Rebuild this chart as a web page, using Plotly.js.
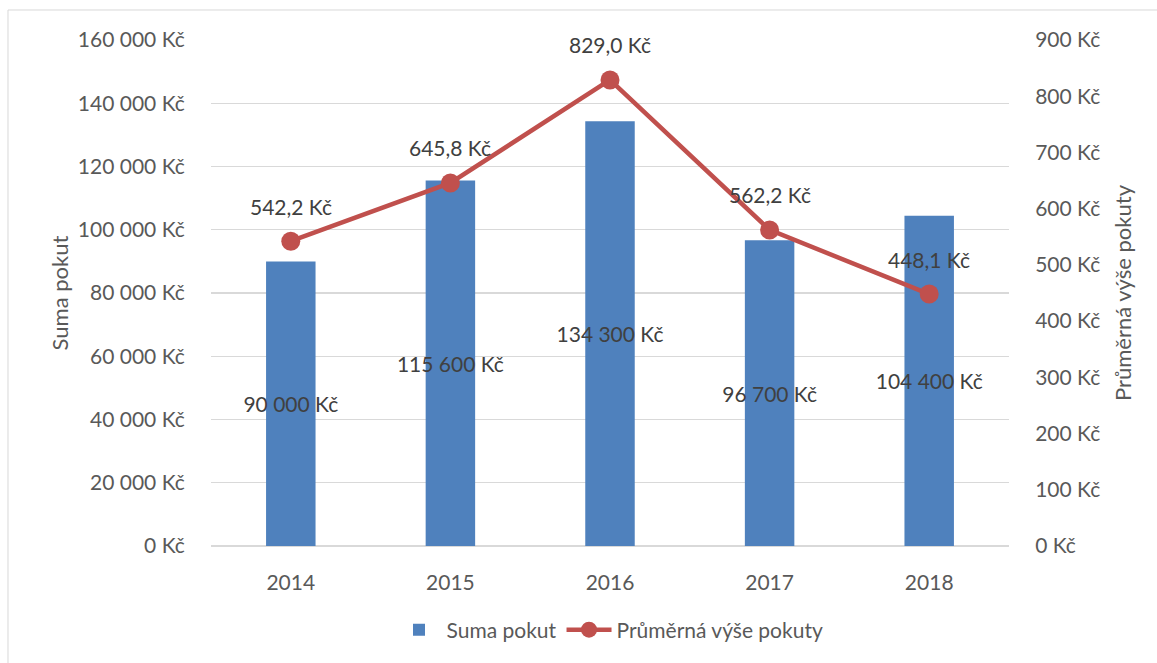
<!DOCTYPE html>
<html>
<head>
<meta charset="utf-8">
<script src="https://cdn.plot.ly/plotly-3.0.1.min.js"></script>
<style>html,body{margin:0;padding:0;background:#fff;}#chart{width:1157px;height:663px;}</style>
</head>
<body>
<div id="chart"></div>
<script>
var years = ['2014', '2015', '2016', '2017', '2018'];
var sumaPokut = [90000, 115600, 134300, 96700, 104400];
var prumernaVyse = [542.2, 645.8, 829.0, 562.2, 448.1];
var seriesNames = ['Suma pokut', 'Průměrná výše pokuty'];
var axisTitles = ['Suma pokut', 'Průměrná výše pokuty'];
var leftTicks = [0, 20000, 40000, 60000, 80000, 100000, 120000, 140000, 160000];
var rightTicks = [0, 100, 200, 300, 400, 500, 600, 700, 800, 900];

var FONT = 'Lato, "Open Sans", sans-serif';
var GRAY = '#595959';
var DARK = '#404040';
var FS = 21;

function fmtInt(n) {
  return String(Math.round(n)).replace(/\B(?=(\d{3})+(?!\d))/g, ' ') + ' Kč';
}
function fmtDec(n) {
  return n.toFixed(1).replace('.', ',') + ' Kč';
}

var bars = {
  type: 'bar',
  name: seriesNames[0],
  x: years,
  y: sumaPokut,
  marker: {color: '#4f81bd'},
  text: sumaPokut.map(fmtInt),
  textposition: 'inside',
  insidetextanchor: 'middle',
  constraintext: 'none',
  textangle: 0,
  insidetextfont: {family: FONT, size: FS, color: DARK},
  hoverinfo: 'x+y'
};

var line = {
  type: 'scatter',
  mode: 'lines+markers',
  name: seriesNames[1],
  x: years,
  y: prumernaVyse,
  xaxis: 'x',
  yaxis: 'y2',
  line: {color: '#c0504d', width: 4.5},
  marker: {color: '#c0504d', size: 19},
  hoverinfo: 'x+y'
};

var annotations = years.map(function (yr, i) {
  return {
    x: i, y: prumernaVyse[i], xref: 'x', yref: 'y2',
    text: fmtDec(prumernaVyse[i]),
    showarrow: false, yshift: 35,
    font: {family: FONT, size: FS, color: DARK}
  };
});

var layout = {
  width: 1157, height: 663,
  margin: {l: 211, r: 148, t: 40, b: 117},
  paper_bgcolor: '#ffffff',
  plot_bgcolor: '#ffffff',
  font: {family: FONT, size: FS, color: GRAY},
  showlegend: true,
  bargap: 0.69,
  xaxis: {
    type: 'category',
    categoryorder: 'array',
    categoryarray: years,
    range: [-0.5, 4.5],
    showgrid: false,
    showline: false,
    zeroline: false,
    ticks: 'outside',
    ticklen: 18,
    tickcolor: 'rgba(0,0,0,0)',
    tickfont: {family: FONT, size: FS, color: GRAY}
  },
  yaxis: {
    range: [0, 160000],
    tickmode: 'array',
    tickvals: leftTicks,
    ticktext: leftTicks.map(fmtInt),
    showgrid: true,
    gridcolor: '#d9d9d9',
    gridwidth: 1.3,
    zeroline: true,
    zerolinecolor: '#d9d9d9',
    zerolinewidth: 1.3,
    showline: false,
    ticks: 'outside',
    ticklen: 21,
    tickcolor: 'rgba(0,0,0,0)',
    tickfont: {family: FONT, size: FS, color: GRAY},
    title: {text: axisTitles[0], standoff: 3, font: {family: FONT, size: 22, color: GRAY}}
  },
  yaxis2: {
    overlaying: 'y',
    side: 'right',
    anchor: 'x',
    range: [0, 900],
    tickmode: 'array',
    tickvals: rightTicks,
    ticktext: rightTicks.map(fmtInt),
    showgrid: false,
    zeroline: false,
    showline: false,
    ticks: 'outside',
    ticklen: 21,
    tickcolor: 'rgba(0,0,0,0)',
    tickfont: {family: FONT, size: FS, color: GRAY},
    title: {text: axisTitles[1], standoff: 16, font: {family: FONT, size: 22, color: GRAY}}
  },
  legend: {
    orientation: 'h',
    x: 0.5, xanchor: 'center',
    y: -0.166, yanchor: 'middle',
    font: {family: FONT, size: FS, color: GRAY},
    itemwidth: 45
  },
  annotations: annotations,
  shapes: [{
    type: 'rect', xref: 'paper', yref: 'paper',
    x0: -0.2544, x1: 1.19, y0: -0.24, y1: 1.0593,
    line: {color: '#d9d9d9', width: 1},
    fillcolor: 'rgba(0,0,0,0)',
    layer: 'below'
  }]
};

Plotly.newPlot('chart', [bars, line], layout, {displayModeBar: false, staticPlot: true});
</script>
</body>
</html>
